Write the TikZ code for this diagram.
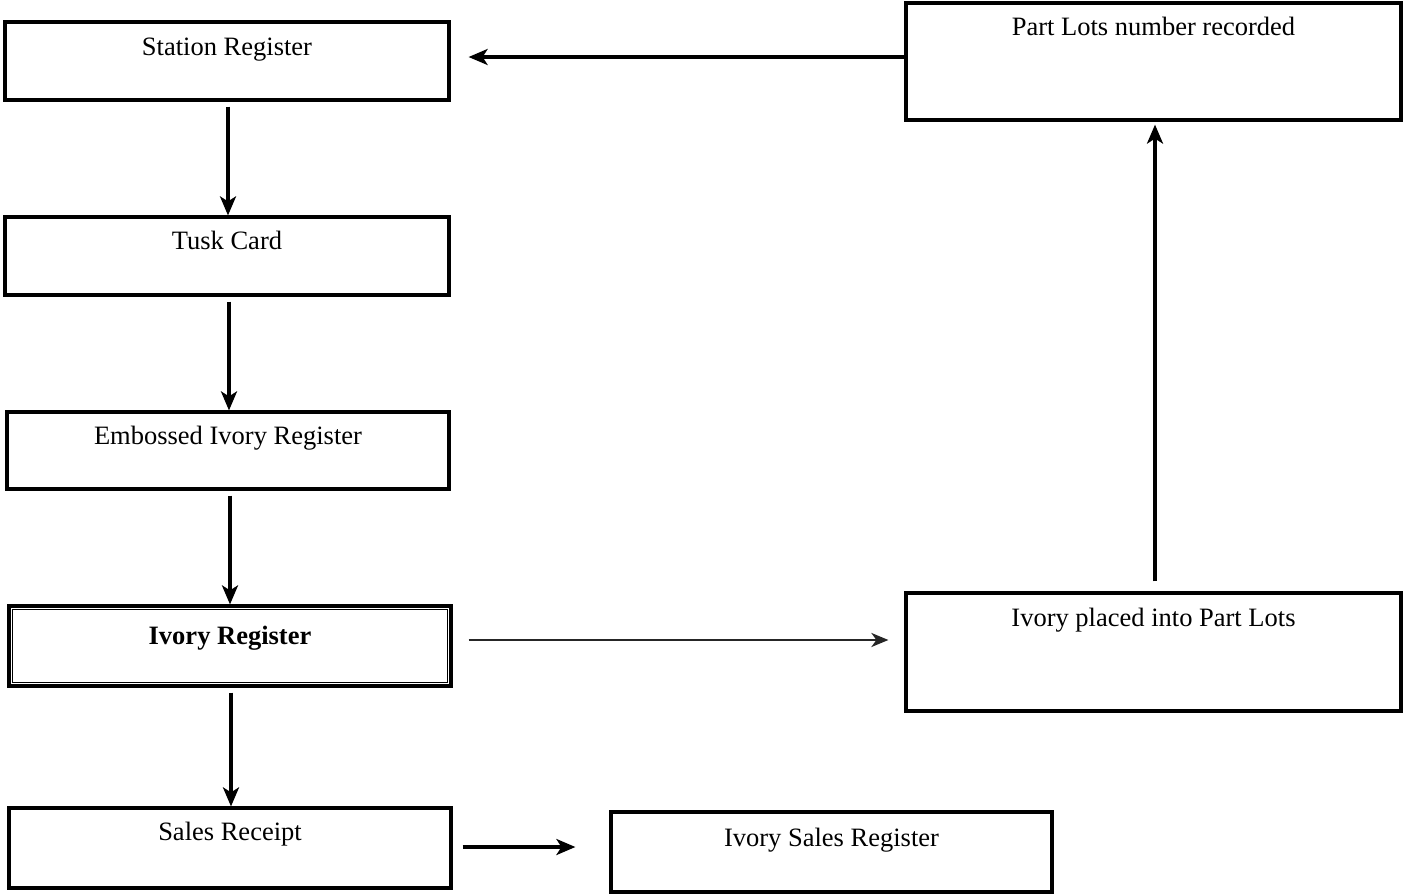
\documentclass[tikz,border=0pt]{standalone}
\usepackage{fontspec}
\setmainfont{Liberation Serif}
\usetikzlibrary{arrows.meta,calc}
\begin{document}
\begin{tikzpicture}[x=1pt,y=-1pt,
  box/.style={draw,line width=3.2pt,inner sep=0pt,font=\fontsize{26.5}{28}\selectfont,
    text height=33pt,text depth=45pt},
  arr/.style={line width=3.2pt,-{Stealth[length=19pt,width=16pt,inset=5pt]}},
  thinarr/.style={line width=2.4pt,draw=black!85,-{Stealth[length=17pt,width=14pt,inset=5pt]}}]
\useasboundingbox (0,0) rectangle (1403,894);
\node[box,minimum width=444pt,minimum height=78pt] (st) at (227,61) {Station Register};
\node[box,minimum width=444pt,minimum height=78pt,text height=32pt,text depth=46pt] (tc) at (227,256) {Tusk Card};
\node[box,minimum width=442pt,minimum height=77pt,text height=32pt,text depth=45pt] (eir) at (228,450.5) {Embossed Ivory Register};
\node[box,minimum width=442pt,minimum height=80pt,text height=38pt,text depth=42pt,font=\fontsize{26.5}{28}\selectfont\bfseries] (ir) at (230,646) {Ivory Register};
\draw[line width=1.2pt] ($(ir.north west)+(5,5)$) rectangle ($(ir.south east)+(-5,-5)$);
\node[box,minimum width=442pt,minimum height=80pt,text height=32pt,text depth=48pt] (sr) at (230,848) {Sales Receipt};
\node[box,minimum width=441pt,minimum height=80pt,text height=34pt,text depth=46pt] (isr) at (831.5,852) {Ivory Sales Register};
\node[box,minimum width=495pt,minimum height=118pt,text height=33pt,text depth=85pt] (ip) at (1153.5,652) {Ivory placed into Part Lots};
\node[box,minimum width=495pt,minimum height=117pt,text height=32pt,text depth=85pt] (pl) at (1153.5,61.5) {Part Lots number recorded};
\draw[arr] ($(st.south)+(1,5)$) -- ($(tc.north)+(1,0)$);
\draw[arr] ($(tc.south)+(2,5)$) -- ($(eir.north)+(1,0)$);
\draw[arr] ($(eir.south)+(2,5)$) -- ($(ir.north)+(0,0)$);
\draw[arr] ($(ir.south)+(1,5)$) -- ($(sr.north)+(1,0)$);
\draw[arr] ($(sr.east)+(10,-1)$) -- ($(isr.west)+(-34,-5)$);
\draw[thinarr] ($(ir.east)+(16,-6)$) -- ($(ip.west)+(-16,-12)$);
\draw[arr] ($(ip.north)+(1.5,-10)$) -- ($(pl.south)+(1.5,3)$);
\draw[arr] ($(pl.west)+(0,-4.5)$) -- ($(st.east)+(18,-4)$);
\end{tikzpicture}
\end{document}
